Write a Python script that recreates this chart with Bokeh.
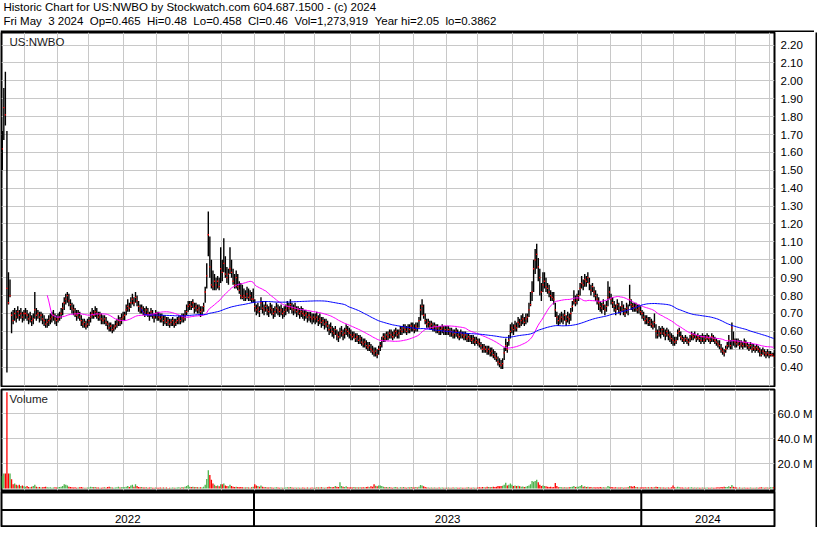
import numpy as np
import pandas as pd
from bokeh.plotting import figure
from bokeh.layouts import column, row
from bokeh.models import (Range1d, LinearAxis, FixedTicker, PrintfTickFormatter,
                          Label, ColumnDataSource, Span)
from bokeh.core.properties import value
from bokeh.core.validation import silence
from bokeh.core.validation.warnings import MISSING_RENDERERS
from bokeh.embed import file_html
from bokeh.resources import INLINE

silence(MISSING_RENDERERS, True)

FONT = "Liberation Sans"
GAP = " \u00a0"  # a double space that survives SVG whitespace collapsing

title_line1 = "Historic Chart for US:NWBO by Stockwatch.com 604.687.1500 - (c) 2024"
title_fields = ["Fri May \u00a03 2024", "Op=0.465", "Hi=0.48", "Lo=0.458", "Cl=0.46",
                "Vol=1,273,919", "Year hi=2.05", "lo=0.3862"]
title_line2 = GAP.join(title_fields)
symbol_label = "US:NWBO"
volume_label = "Volume"

first_day = "2022-05-10"
last_day = "2024-05-03"
market_holidays = [
    "2022-05-30", "2022-06-20", "2022-07-04", "2022-09-05", "2022-11-24", "2022-12-26",
    "2023-01-02", "2023-01-16", "2023-02-20", "2023-04-07", "2023-05-29", "2023-06-19",
    "2023-07-04", "2023-09-04", "2023-11-23", "2023-12-25",
    "2024-01-01", "2024-01-15", "2024-02-19", "2024-03-29",
]

# daily close / high / low in cents, one row per month
close_c = [
    162,185,181,84,76,80,69,66,70,68,71,69,70,68,70,
    70,69,67,68,66,67,72,69,70,68,69,67,66,64,65,66,67,68,69,67,66,
    67,68,70,73,76,78,80,77,75,73,72,70,69,70,68,66,64,65,63,64,
    66,68,70,69,71,70,68,69,67,66,67,65,64,62,63,61,62,63,64,66,65,67,68,
    69,72,74,73,76,78,76,79,77,74,72,73,71,70,72,70,69,71,69,68,70,
    69,68,67,68,66,67,65,66,64,65,66,64,65,66,67,66,68,67,69,71,74,
    75,74,76,73,74,72,73,71,72,74,82,91,114,96,86,85,88,86,88,85,95,
    93,98,92,90,92,95,93,88,86,90,85,83,80,79,80,79,81,79,80,78,78,
    74,72,73,71,76,73,72,74,72,71,73,72,70,71,73,72,71,72,70,71,
    72,74,73,75,73,72,73,71,72,70,71,70,69,70,68,69,68,67,68,
    67,68,66,67,65,66,64,65,63,61,62,60,59,61,58,57,59,60,58,59,61,60,59,
    58,57,58,56,57,55,56,54,53,54,52,51,52,50,49,48,49,47,50,
    52,55,57,56,58,57,59,58,57,59,60,58,59,61,60,62,61,60,62,61,63,62,
    61,63,62,66,72,74,69,66,64,65,63,64,62,63,61,62,60,61,62,60,61,
    60,61,59,60,58,59,60,58,57,59,58,57,58,56,57,56,55,56,54,55,
    54,53,52,50,51,50,49,50,48,49,47,46,45,43,42,41,42,48,52,50,55,60,62,
    61,63,62,65,64,66,67,65,67,68,72,75,82,95,100,103,96,90,82,86,
    88,85,84,82,80,79,78,72,68,66,67,68,67,69,66,68,67,70,74,77,76,78,
    80,84,87,86,89,88,90,87,83,85,82,80,78,76,74,73,75,72,74,79,82,
    78,76,74,72,75,73,71,74,72,70,73,72,78,75,74,73,74,72,73,71,
    70,68,66,67,65,66,64,63,65,60,58,60,59,61,59,58,60,58,57,56,55,
    54,55,59,60,57,56,55,56,55,54,56,58,57,58,56,57,56,55,57,55,
    56,57,56,55,57,56,55,54,53,52,50,49,48,50,52,55,52,62,55,54,
    53,54,52,53,52,54,53,52,51,52,50,51,50,51,50,49,47,49,48,47,48,47,
    47,47,46,
]
high_c = [
    172,196,205,172,93,89,71,72,73,72,74,72,73,71,72,
    73,72,70,71,69,70,82,73,72,71,71,70,69,67,67,69,70,71,72,70,69,
    70,71,73,76,79,81,82,81,78,76,75,73,72,72,71,69,67,67,66,67,
    68,71,73,72,74,73,71,71,70,69,69,68,66,65,65,64,64,66,67,69,68,70,71,
    71,75,78,76,79,81,79,82,80,77,75,75,74,73,74,73,71,73,72,70,72,
    71,71,70,70,69,69,68,68,67,67,68,67,67,68,69,69,70,70,72,75,77,
    77,77,78,76,76,75,75,74,74,76,85,98,127,113,100,94,92,90,91,90,107,
    100,112,102,96,95,107,100,95,92,94,92,88,87,86,84,83,85,84,83,82,84,
    78,75,76,74,79,77,75,77,75,74,76,75,73,74,76,75,74,75,73,74,
    75,77,76,78,76,75,76,74,74,73,74,73,72,72,71,71,71,70,70,
    70,71,69,70,68,68,67,67,66,64,65,63,62,63,61,60,62,63,61,62,64,63,62,
    61,60,60,59,59,58,58,57,56,56,55,54,54,53,52,51,51,50,52,
    54,57,59,59,60,60,61,61,60,61,62,61,61,63,63,64,64,63,64,64,65,65,
    64,65,65,68,75,78,75,70,67,67,66,66,65,65,64,64,63,63,64,63,63,
    63,63,62,62,61,61,62,61,60,61,60,60,60,59,59,58,58,58,57,57,
    56,56,54,53,53,52,52,52,51,51,50,49,48,46,45,44,45,51,56,54,58,64,65,
    64,66,65,68,67,69,70,68,70,70,76,82,88,100,106,109,101,95,87,93,
    93,90,87,86,83,82,82,76,71,69,70,71,70,72,69,71,70,73,77,83,80,81,
    83,87,91,89,92,91,93,90,86,87,85,83,81,79,77,76,78,75,77,88,85,
    81,79,77,75,78,76,74,77,75,73,76,75,86,78,76,76,76,75,75,74,
    72,71,69,69,68,68,67,66,70,64,61,63,62,63,62,61,62,61,60,59,58,
    57,57,61,62,60,58,57,58,57,56,58,60,59,60,58,59,58,58,59,58,
    58,59,58,57,59,58,57,56,55,55,53,51,50,52,54,58,55,65,60,56,
    56,56,55,55,54,56,55,54,53,54,53,53,52,53,52,51,50,51,50,49,50,49,
    49,48,48,
]
low_c = [
    150,167,175,37,75,79,59,64,66,65,67,66,67,65,66,
    67,66,64,65,63,64,67,66,67,65,66,64,63,62,62,63,64,65,66,64,63,
    65,66,67,69,72,75,76,74,72,70,69,68,66,67,66,63,62,62,61,62,
    63,65,67,67,68,67,66,66,64,64,64,63,61,60,60,59,60,61,62,63,63,64,66,
    66,69,71,71,73,75,74,76,74,71,70,70,69,68,69,68,66,68,67,65,67,
    66,66,65,65,63,64,63,63,62,63,63,62,63,64,64,64,65,65,66,69,71,
    72,72,73,70,71,70,70,68,69,71,76,84,102,90,84,83,83,83,84,83,87,
    88,93,90,87,86,92,90,86,84,84,83,81,78,78,77,77,78,77,77,76,76,
    71,69,70,68,72,70,69,71,69,68,70,69,67,68,70,69,68,69,67,68,
    69,71,70,72,70,69,70,68,69,67,68,67,66,67,65,66,65,64,65,
    64,65,63,64,62,63,61,62,60,58,59,57,56,58,55,54,56,57,55,56,58,57,56,
    55,55,56,54,54,53,53,52,51,51,50,49,49,48,47,46,46,45,47,
    49,51,54,54,55,55,56,56,55,56,57,56,56,58,58,59,59,58,59,59,60,60,
    59,60,60,62,66,69,67,64,62,62,61,61,60,60,59,59,58,58,59,58,58,
    58,58,57,57,56,56,57,56,55,56,56,55,55,54,54,54,53,53,52,53,
    52,51,50,48,48,48,47,47,46,46,45,44,43,41,40,39,39,44,49,48,52,56,59,
    58,60,60,62,62,63,64,63,64,65,68,74,77,82,92,95,88,80,77,82,
    84,82,81,79,77,77,75,68,64,63,64,65,64,66,63,65,64,66,71,75,74,75,
    77,80,84,83,85,85,87,83,80,82,79,77,75,72,71,70,72,69,71,74,78,
    75,73,71,69,72,70,69,71,69,68,70,69,74,72,71,71,71,70,70,69,
    67,66,64,64,63,63,62,61,62,56,56,57,56,58,57,55,57,55,54,53,52,
    52,53,55,57,55,54,53,54,53,52,54,55,55,56,54,55,54,53,54,53,
    54,55,54,53,54,54,53,52,51,50,48,47,46,48,50,51,50,50,52,51,
    51,52,50,51,50,51,51,50,49,50,48,49,48,49,48,46,46,47,46,45,46,45,
    46,46,45.8,
]
# daily volume in millions of shares
volume_m = [
    10,12,12,77,12,12,7.5,3.5,4,3,2.5,3,2,2.5,1.8,
    1.5,2,1.2,1,1.5,2,3,1.5,1,1.2,0.8,1,1.2,1.5,1,0.8,1,0.7,0.9,1,0.8,
    1,1.2,1.5,2,3.5,3,2.5,1.5,1.2,1,0.8,1,0.7,0.9,1,1.2,0.8,0.7,0.6,0.8,
    0.8,1.5,1.2,1,1.3,0.9,0.8,0.7,0.6,0.8,1,0.7,1.2,1.5,1,0.8,0.7,0.9,1,1.4,0.8,1,1.2,
    1,1.5,2,1.2,2.5,3,1.5,3.5,2,1.3,1,1.2,0.9,0.8,1,0.7,0.8,1,0.6,0.7,0.8,
    0.7,0.6,0.8,0.7,0.9,0.6,0.8,0.5,0.7,0.6,0.9,0.7,0.6,0.8,1,0.7,1.2,0.8,1.5,2,2.8,
    1.5,1.2,1.5,1,1.2,1,0.9,1,0.8,1.5,3,7.7,14.6,10.8,7,4,3,2,2.5,1.8,3.5,
    3.5,4,2.5,2,1.8,3,2,1.5,1.2,1.5,1.2,1,1.3,1,0.8,0.9,1,0.8,0.7,1,1.5,
    3.5,2.5,2,1.5,2.5,1.5,1,1.2,0.9,0.8,1,0.8,0.7,0.9,1,0.8,0.7,0.9,0.6,0.7,
    0.8,1,0.9,1.2,0.8,0.7,0.9,0.6,0.8,0.7,0.6,0.8,0.7,0.6,0.9,0.7,0.6,0.8,0.7,
    0.7,1,0.8,0.9,1,0.8,0.7,0.9,1,1.5,1.2,1,1.3,2,1.5,1.2,5,2,1.5,1.2,1.8,1,0.9,
    1,0.9,1.2,0.8,1,0.9,1.1,0.8,1,0.9,1.2,1.5,1.1,1.8,1.4,3.5,2.3,1.8,2.5,
    2.5,2,1.5,1,1.3,0.9,1.2,0.8,0.7,1,1.2,0.8,0.7,1,0.9,1.2,0.8,0.7,1,0.8,1.2,0.9,
    0.8,1.2,0.9,1.5,2.8,2.5,1.8,1.2,0.9,0.8,0.7,0.9,0.6,0.8,0.7,0.6,0.8,0.7,0.9,0.6,0.7,
    0.6,0.8,0.7,0.6,0.8,0.7,0.9,0.6,0.7,0.8,0.6,0.7,0.6,0.8,1,0.7,0.6,0.8,0.7,0.6,
    0.8,1,0.9,1.2,1,0.9,1.5,1.2,1,1.3,1.5,1.2,1.4,2,1.8,2,2.2,3,4.7,2.5,3,4,3,
    2,2.5,2,2.2,1.8,1.5,1.6,1.2,1.5,2,2.5,3.5,6,5.5,6,7,5,3,2,2.5,
    2,1.8,1.5,1.2,1.5,1,1.2,4.5,2,1,1.2,1,0.8,1,0.9,0.8,1,1.2,1.5,2,1.2,1.5,
    1.5,2,2.8,1.5,1.8,1.2,1.5,1,1.2,0.9,1,0.8,1,0.9,1.2,0.8,1,0.9,0.8,2,1.5,
    1.2,1,0.9,1,0.8,0.9,0.8,1,0.7,0.9,0.8,1,2,1.8,1.5,2,1.2,1,0.9,0.8,
    1,0.9,1.1,0.8,1,0.9,1,0.8,1,1.5,1.2,1,0.9,0.8,0.9,0.7,0.9,0.8,0.7,1,2.5,
    1,0.9,1.5,1,0.8,0.9,0.7,0.8,0.7,0.9,0.8,1,0.7,0.8,0.7,0.9,0.6,0.7,0.8,0.6,
    0.7,0.8,0.6,0.7,0.8,0.6,0.7,0.8,1,0.9,1.2,1,1.5,1.2,1.3,1.8,1.2,2.8,1.5,1,
    0.8,0.7,0.9,0.6,0.7,0.8,0.6,0.7,0.6,0.8,0.7,0.6,0.7,0.8,0.6,0.9,1,0.8,0.7,0.9,0.8,0.7,
    1,1.1,1.27,
]

price_ticks = [0.40, 0.50, 0.60, 0.70, 0.80, 0.90, 1.00, 1.10, 1.20, 1.30, 1.40,
               1.50, 1.60, 1.70, 1.80, 1.90, 2.00, 2.10, 2.20]
volume_ticks = [20, 40, 60]
ma_short_days = 30
ma_long_days = 90

# ---------------------------------------------------------------- derived
dates = pd.bdate_range(first_day, last_day, freq="C", holidays=market_holidays)
N = len(close_c)
assert len(dates) == N == len(high_c) == len(low_c) == len(volume_m)

close = np.array(close_c, dtype=float) / 100.0
high = np.array(high_c, dtype=float) / 100.0
low = np.array(low_c, dtype=float) / 100.0
vol = np.array(volume_m, dtype=float)
idx = np.arange(N)
ma_s = pd.Series(close).rolling(ma_short_days).mean().to_numpy()
ma_l = pd.Series(close).rolling(ma_long_days).mean().to_numpy()
prev = np.concatenate([[close[0]], close[:-1]])
vcolor = np.where(close >= prev, "#4db34d", "#ff0000")

month_lines = [i - 0.5 for i in range(1, N) if dates[i].month != dates[i - 1].month]
year_lines = [i - 0.5 for i in range(1, N) if dates[i].year != dates[i - 1].year]
years = sorted(set(d.year for d in dates))
year_labels = [str(y) for y in years]
year_centers = []
for y in years:
    ii = [i for i in range(N) if dates[i].year == y]
    year_centers.append(((ii[0] - 0.5) + (ii[-1] + 0.5)) / 2.0)

src = ColumnDataSource(dict(x=idx, hi=high, lo=low, cl=close, mas=ma_s, mal=ma_l,
                            vol=vol, vc=vcolor))

# ---------------------------------------------------------------- layout
TOTAL_W = 814
RIGHT = 38
LINE_W = 2
FW = TOTAL_W - 1 - RIGHT - LINE_W
GRID = "#c8c8c8"
TXT = "11.5px"
xr = Range1d(-0.5, N - 0.5)


def base_fig(frame_h, yr, top, bottom):
    f = figure(frame_width=FW, frame_height=frame_h, x_range=xr, y_range=yr,
               x_axis_location=None, y_axis_location=None, toolbar_location=None,
               output_backend="svg", min_border_left=1, min_border_right=RIGHT,
               min_border_top=top, min_border_bottom=bottom,
               background_fill_color="white", border_fill_color="white",
               outline_line_color="black", outline_line_width=2)
    return f


# header
h = figure(width=TOTAL_W, height=32, x_range=Range1d(0, TOTAL_W), y_range=Range1d(0, 32),
           x_axis_location=None, y_axis_location=None, toolbar_location=None,
           output_backend="svg", min_border=0, outline_line_color=None,
           background_fill_color="white", border_fill_color="white")
h.grid.visible = False
h.add_layout(Label(x=3, y=32, text=title_line1, text_baseline="top", text_font=FONT,
                   text_font_size=TXT, text_color="black"))
h.add_layout(Label(x=3, y=17.5, text=title_line2, text_baseline="top", text_font=FONT,
                   text_font_size=TXT, text_color="black"))
h.add_layout(Span(location=1, dimension="width", line_color="black", line_width=2))

# price panel
p = base_fig(354, Range1d(0.292, 2.27), 0, 1)
p.xgrid.ticker = FixedTicker(ticks=month_lines)
p.ygrid.ticker = FixedTicker(ticks=price_ticks)
p.grid.grid_line_color = GRID
p.segment(x0="x", y0="lo", x1="x", y1="hi", source=src, line_color="black", line_width=1.4)
p.scatter(x="x", y="cl", source=src, marker="square", size=1.3, fill_color="red", line_color=None)
p.line(x="x", y="mas", source=src, line_color="#ff00ff", line_width=1)
p.line(x="x", y="mal", source=src, line_color="#0000ff", line_width=1)
pax = LinearAxis(ticker=FixedTicker(ticks=price_ticks), formatter=PrintfTickFormatter(format="%.2f"),
                 major_tick_line_color=None, minor_tick_line_color=None, axis_line_color=None,
                 major_tick_out=0, major_tick_in=0, minor_tick_out=0,
                 major_label_text_font=FONT, major_label_text_font_size=TXT,
                 major_label_text_color="black", major_label_standoff=6)
p.add_layout(pax, "right")
p.add_layout(Label(x=-0.5, y=2.27, x_offset=8, y_offset=-3, text=symbol_label, text_baseline="top",
                   text_font=FONT, text_font_size=TXT, text_color="#1a1a1a"))

# volume panel
v = base_fig(101, Range1d(-1.5, 79.2), 2, 1)
v.xgrid.ticker = FixedTicker(ticks=month_lines)
v.ygrid.ticker = FixedTicker(ticks=volume_ticks)
v.grid.grid_line_color = GRID
v.vbar(x="x", top="vol", bottom=0, width=0.85, source=src, fill_color="vc", line_color=None)
vax = LinearAxis(ticker=FixedTicker(ticks=volume_ticks), formatter=PrintfTickFormatter(format="%.1f M"),
                 major_tick_line_color=None, minor_tick_line_color=None, axis_line_color=None,
                 major_tick_out=0, major_tick_in=0, minor_tick_out=0,
                 major_label_text_font=FONT, major_label_text_font_size=TXT,
                 major_label_text_color="black", major_label_standoff=3)
v.add_layout(vax, "right")
v.add_layout(Label(x=-0.5, y=79.2, x_offset=8, y_offset=-3, text=volume_label, text_baseline="top",
                   text_font=FONT, text_font_size=TXT, text_color="#1a1a1a"))

# date band
b = base_fig(36, Range1d(0, 36), 0, 0)
b.grid.visible = False
for loc in (35, 17.5, 1):
    b.add_layout(Span(location=loc, dimension="width", line_color="black", line_width=2))
b.segment(x0=year_lines, y0=0, x1=year_lines, y1=36, line_color="black", line_width=2)
b.text(x=year_centers, y=9, text=year_labels, text_align="center", text_baseline="middle",
       text_font=value(FONT), text_font_size=TXT, text_color="black")

# right edge line
edge = figure(width=LINE_W, height=355 + 104 + 36, toolbar_location=None, output_backend="svg",
              x_axis_location=None, y_axis_location=None, min_border=0,
              background_fill_color="black", border_fill_color="black", outline_line_color=None)
edge.grid.visible = False

layout = column(h, row(column(p, v, b), edge))
open("out.html", "w").write(file_html(layout, INLINE))
